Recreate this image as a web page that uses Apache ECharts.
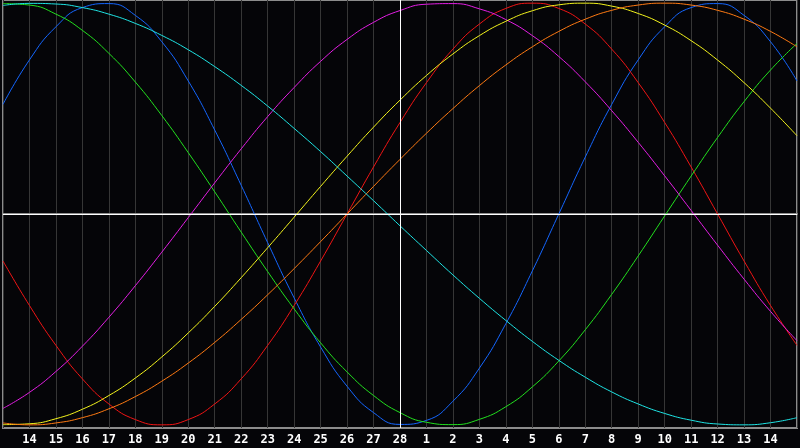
<!DOCTYPE html>
<html>
<head>
<meta charset="utf-8">
<script src="https://cdn.jsdelivr.net/npm/echarts@6/dist/echarts.min.js"></script>
<style>
  html, body { margin: 0; padding: 0; background: #050508; }
  #main { width: 800px; height: 448px; }
</style>
</head>
<body>
<div id="main"></div>
<script>
// day labels under the grid (first and last are off the visible edge)
var days = ['13', '14', '15', '16', '17', '18', '19', '20', '21', '22', '23', '24', '25', '26', '27', '28',
    '1', '2', '3', '4', '5', '6', '7', '8', '9', '10', '11', '12', '13', '14', '15'];

// values, -100..100
var physical = [52.0, 73.1, 88.8, 97.9, 99.8, 94.2, 81.7, 63.1, 39.8, 13.6, -13.6, -39.8, -63.1, -81.7, -94.2, -99.8,
    -97.9, -88.8, -73.1, -52.0, -27.0, 0, 27.0, 52.0, 73.1, 88.8, 97.9, 99.8, 94.2, 81.7, 63.1];
var emotional = [-22.3, -43.4, -62.3, -78.2, -90.1, -97.5, -100, -97.5, -90.1, -78.2, -62.3, -43.4, -22.3, 0, 22.3, 43.4,
    62.3, 78.2, 90.1, 97.5, 100, 97.5, 90.1, 78.2, 62.3, 43.4, 22.3, 0, -22.3, -43.4, -62.3];
var intellectual = [99.8, 99.1, 94.8, 87.1, 76.2, 62.6, 46.7, 29.1, 10.5, -8.6, -27.3, -45.0, -61.1, -74.9, -86.1, -94.2,
    -98.8, -99.9, -97.4, -91.4, -82.0, -69.7, -54.9, -38.1, -19.9, -0.9, 18.0, 36.3, 53.3, 68.3, 80.9];
var intuitive = [-92.2, -84.6, -74.7, -62.7, -49.0, -34.0, -18.1, -1.7, 14.8, 30.9, 46.2, 60.0, 72.4, 82.8, 90.9, 96.5,
    99.5, 99.8, 97.3, 92.2, 84.6, 74.7, 62.7, 49.0, 34.0, 18.1, 1.7, -14.8, -30.9, -46.2, -60.1];
var aesthetic = [-99.9, -99.5, -97.1, -92.6, -86.1, -77.8, -67.8, -56.4, -43.8, -30.2, -16.0, -1.5, 13.1, 27.4, 41.2, 54.0,
    65.7, 75.9, 84.6, 91.4, 96.4, 99.2, 100, 98.6, 95.1, 89.6, 82.2, 73.0, 62.3, 50.2, 37.1];
var awareness = [-99.1, -100, -99.1, -96.6, -92.4, -86.6, -79.3, -70.7, -60.9, -50.0, -38.3, -25.9, -13.1, 0, 13.1, 25.9,
    38.3, 50.0, 60.9, 70.7, 79.3, 86.6, 92.4, 96.6, 99.1, 100, 99.1, 96.6, 92.4, 86.6, 79.3];
var spiritual = [98.9, 99.9, 99.6, 97.9, 94.8, 90.4, 84.7, 77.9, 69.9, 61.0, 51.2, 40.6, 29.6, 18.0, 6.3, -5.6,
    -17.3, -28.9, -40.0, -50.5, -60.4, -69.4, -77.4, -84.4, -90.1, -94.6, -97.8, -99.6, -100, -99.0, -96.6];

var curves = [
    { name: '身体', data: physical, color: '#1466ff' },
    { name: '感情', data: emotional, color: '#f01414' },
    { name: '知性', data: intellectual, color: '#22e01e' },
    { name: '直感', data: intuitive, color: '#e41ee4' },
    { name: '美感', data: aesthetic, color: '#f4f41c' },
    { name: '意識', data: awareness, color: '#ff7a12' },
    { name: '精神', data: spiritual, color: '#1ee4e4' }
];

var myChart = echarts.init(document.getElementById('main'));

var series = curves.map(function (c) {
    return {
        name: c.name,
        type: 'line',
        data: c.data,
        smooth: true,
        showSymbol: false,
        lineStyle: { color: c.color, width: 1 },
        itemStyle: { color: c.color }
    };
});

// white cross through the middle
series[0].markLine = {
    silent: true,
    symbol: 'none',
    label: { show: false },
    lineStyle: { color: '#ffffff', width: 1, type: 'solid' },
    data: [{ xAxis: 15 }, { yAxis: 0 }]
};

myChart.setOption({
    backgroundColor: '#050508',
    animation: false,
    grid: {
        left: 0,
        right: 0,
        top: 0,
        bottom: 20,
        show: true,
        borderColor: '#8c8c8c',
        borderWidth: 2
    },
    xAxis: {
        type: 'category',
        data: days,
        boundaryGap: false,
        axisLine: { show: true, lineStyle: { color: '#8c8c8c', width: 2 } },
        axisTick: { show: false },
        splitLine: { show: true, interval: 0, lineStyle: { color: '#363636', width: 1 } },
        axisLabel: {
            interval: 0,
            margin: 6,
            color: '#ffffff',
            fontFamily: 'DejaVu Sans Mono',
            fontWeight: 'bold',
            fontSize: 12,
            formatter: function (val, idx) {
                return (idx === 0 || idx === days.length - 1) ? '' : val;
            }
        }
    },
    yAxis: {
        type: 'value',
        min: -101.5,
        max: 101.5,
        show: false,
        splitLine: { show: false }
    },
    series: series
});
</script>
</body>
</html>
